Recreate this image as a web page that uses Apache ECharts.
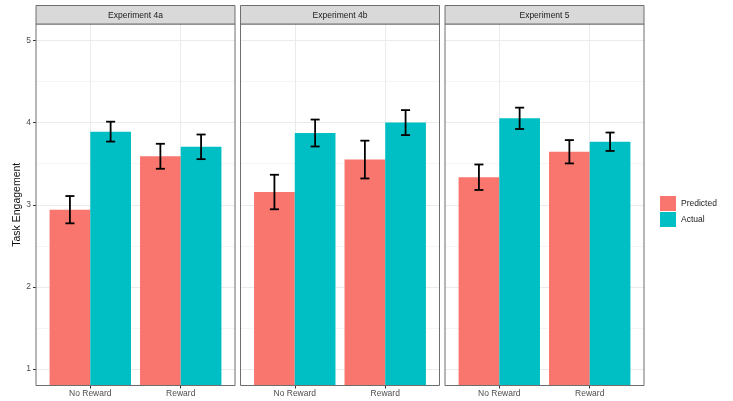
<!DOCTYPE html>
<html>
<head>
<meta charset="utf-8">
<script src="https://cdn.jsdelivr.net/npm/echarts@6/dist/echarts.min.js"></script>
<style>
  html, body { margin: 0; padding: 0; background: #fff; }
  #chart { width: 733px; height: 401px; }
</style>
</head>
<body>
<div id="chart"></div>
<script>
// Facets, conditions and groups
const experiments = ['Experiment 4a', 'Experiment 4b', 'Experiment 5'];
const conditions = ['No Reward', 'Reward'];
const groups = ['Predicted', 'Actual'];

// Mean task engagement per experiment: [No Reward, Reward]
const predicted = [[2.94, 3.59], [3.155, 3.55], [3.335, 3.645]];
const actual = [[3.89, 3.705], [3.873, 4.0], [4.052, 3.767]];
// Standard errors (half-length of each error bar)
const predictedSE = [[0.166, 0.152], [0.21, 0.23], [0.155, 0.142]];
const actualSE = [[0.121, 0.15], [0.164, 0.152], [0.13, 0.112]];

// Axis ticks
const yTicks = [1, 2, 3, 4, 5];
const yMinorTicks = [1.5, 2.5, 3.5, 4.5];

// Layout and style
const FONT = '"Liberation Sans", Arial, sans-serif';
const COLORS = ['#F8766D', '#00BFC4'];
const PANEL_LEFT = [36, 240.5, 445];
const PANEL_W = 199;
const PANEL_TOP = 24;
const PANEL_BOTTOM = 385.5;
const STRIP_TOP = 5.5;
const BAR_SHARE = 0.45;   // width of one bar in category units
const WHISKER = 0.1;      // error bar cap width in category units
const Y_MIN = 0.8, Y_MAX = 5.2;
const X_MIN = 0.4, X_MAX = 2.6;

const chart = echarts.init(document.getElementById('chart'), null, { renderer: 'canvas' });

const grids = [], xAxes = [], yAxes = [], series = [], graphics = [];

function renderErrorBar(params, api) {
  const x = api.value(0), mean = api.value(1), se = api.value(2), g = api.value(3);
  const unit = api.size([1, 0])[0];
  const cx = api.coord([x, mean])[0] + (g === 0 ? -1 : 1) * unit * BAR_SHARE / 2;
  const top = api.coord([x, mean + se])[1];
  const bot = api.coord([x, mean - se])[1];
  const half = unit * WHISKER / 2;
  const style = { stroke: '#000', lineWidth: 1.8 };
  return {
    type: 'group',
    children: [
      { type: 'line', shape: { x1: cx, y1: top, x2: cx, y2: bot }, style },
      { type: 'line', shape: { x1: cx - half, y1: top, x2: cx + half, y2: top }, style },
      { type: 'line', shape: { x1: cx - half, y1: bot, x2: cx + half, y2: bot }, style }
    ]
  };
}

experiments.forEach((name, p) => {
  grids.push({
    left: PANEL_LEFT[p], width: PANEL_W,
    top: PANEL_TOP, height: PANEL_BOTTOM - PANEL_TOP,
    show: true, backgroundColor: '#fff', borderWidth: 0
  });

  xAxes.push({
    type: 'value', gridIndex: p, min: X_MIN, max: X_MAX,
    axisLine: { show: false },
    axisTick: { show: true, length: 3, customValues: [1, 2], lineStyle: { color: '#333', width: 1 } },
    axisLabel: {
      customValues: [1, 2], margin: 4,
      fontFamily: FONT, fontSize: 8.5, color: '#4d4d4d',
      formatter: v => conditions[Math.round(v) - 1] || ''
    },
    splitLine: { show: true, lineStyle: { color: '#ebebeb', width: 1 } }
  });

  // Major y axis (labels on the first panel only)
  yAxes.push({
    type: 'value', gridIndex: p, min: Y_MIN, max: Y_MAX,
    name: p === 0 ? 'Task Engagement' : '',
    nameLocation: 'middle', nameGap: 11,
    nameTextStyle: { fontFamily: FONT, fontSize: 10.5, color: '#111' },
    axisLine: { show: false },
    axisTick: { show: p === 0, length: 3, customValues: yTicks, lineStyle: { color: '#333', width: 1 } },
    axisLabel: {
      show: p === 0, customValues: yTicks, margin: 5,
      fontFamily: FONT, fontSize: 8.5, color: '#4d4d4d'
    },
    splitLine: { show: true, lineStyle: { color: '#ebebeb', width: 1 } }
  });
  // Minor y grid lines
  yAxes.push({
    type: 'value', gridIndex: p, min: Y_MIN, max: Y_MAX, position: 'left',
    axisLine: { show: false },
    axisTick: { show: false, customValues: yMinorTicks },
    axisLabel: { show: false, customValues: yMinorTicks },
    splitLine: { show: true, lineStyle: { color: '#f5f5f5', width: 1 } }
  });

  const means = [predicted[p], actual[p]];
  const ses = [predictedSE[p], actualSE[p]];

  groups.forEach((g, gi) => {
    series.push({
      type: 'bar', name: g,
      xAxisIndex: p, yAxisIndex: 2 * p,
      barWidth: (BAR_SHARE * 100) + '%', barGap: '0%',
      clip: true,
      itemStyle: { color: COLORS[gi] },
      emphasis: { disabled: true },
      data: conditions.map((c, ci) => [ci + 1, means[gi][ci]])
    });
  });

  const errData = [];
  groups.forEach((g, gi) => {
    conditions.forEach((c, ci) => errData.push([ci + 1, means[gi][ci], ses[gi][ci], gi]));
  });
  series.push({
    type: 'custom', name: 'error-' + p,
    xAxisIndex: p, yAxisIndex: 2 * p,
    renderItem: renderErrorBar,
    z: 5, silent: true,
    encode: { x: 0, y: 1 },
    data: errData
  });

  // Panel frame
  graphics.push({
    type: 'rect', z: 100, silent: true,
    shape: { x: PANEL_LEFT[p], y: PANEL_TOP, width: PANEL_W, height: PANEL_BOTTOM - PANEL_TOP },
    style: { fill: null, stroke: '#6e6e6e', lineWidth: 1 }
  });
  // Facet strip
  graphics.push({
    type: 'rect', z: 100, silent: true,
    shape: { x: PANEL_LEFT[p], y: STRIP_TOP, width: PANEL_W, height: PANEL_TOP - STRIP_TOP },
    style: { fill: '#d9d9d9', stroke: '#6e6e6e', lineWidth: 1 }
  });
  graphics.push({
    type: 'text', z: 101, silent: true,
    x: PANEL_LEFT[p] + PANEL_W / 2, y: (STRIP_TOP + PANEL_TOP) / 2 + 0.5,
    style: {
      text: name, fill: '#1a1a1a', font: '8.5px ' + FONT,
      textAlign: 'center', textVerticalAlign: 'middle',
      align: 'center', verticalAlign: 'middle'
    }
  });
});

chart.setOption({
  animation: false,
  backgroundColor: '#fff',
  grid: grids,
  xAxis: xAxes,
  yAxis: yAxes,
  series: series,
  legend: {
    data: groups,
    orient: 'vertical',
    left: 660, top: 196,
    itemWidth: 16, itemHeight: 15, itemGap: 1,
    icon: 'rect',
    padding: 0,
    selectedMode: false,
    textStyle: { fontFamily: FONT, fontSize: 8.5, color: '#1a1a1a' }
  },
  graphic: graphics
});
</script>
</body>
</html>
